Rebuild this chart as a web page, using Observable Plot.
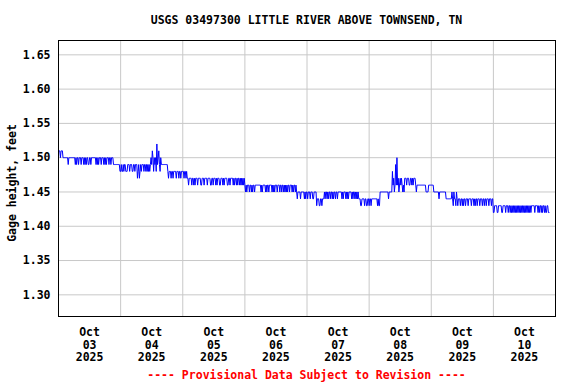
<!DOCTYPE html>
<html><head><meta charset="utf-8">
<script src="https://cdn.jsdelivr.net/npm/d3@7"></script>
<script src="https://cdn.jsdelivr.net/npm/@observablehq/plot@0.6"></script>
<style>
body{margin:0;background:#fff;}
#wrap{position:relative;width:576px;height:384px;font-family:"DejaVu Sans Mono",monospace;font-weight:bold;font-size:11.5px;color:#000;}
#wrap svg{position:absolute;left:0;top:0;}
.t{position:absolute;white-space:pre;line-height:14px;z-index:2;}
</style></head><body>
<div id="wrap">
<div class="t" id="title" style="left:58px;width:497px;top:13px;text-align:center;"></div>
<div class="t" id="ylab" style="left:12px;top:183px;transform:translate(-50%,-50%) rotate(-90deg);"></div>
<div class="t" id="cap" style="left:58px;width:497px;top:368px;text-align:center;color:#ff0000;"></div>
</div>
<script>
// ---- text ----
const titleText = "USGS 03497300 LITTLE RIVER ABOVE TOWNSEND, TN";
const yLabel = "Gage height, feet";
const captionText = "---- Provisional Data Subject to Revision ----";

// ---- tick labels ----
const yTicks = [1.30, 1.35, 1.40, 1.45, 1.50, 1.55, 1.60, 1.65];
const xTickMonth = "Oct";
const xTickDays = ["03", "04", "05", "06", "07", "08", "09", "10"];
const xTickYear = "2025";

// ---- gage height, hundredths of a foot, every 15 minutes from midnight ----
const oct03 = [151,151,151,150,151,151,151,150,150,150, 150,150,150,150,150,149,150,150,150,150,
  150,150,150,150,150,150,149,150,149,150, 150,149,150,150,150,149,150,150,150,149,
  150,149,150,149,150,150,149,149,150,150, 149,150,150,150,150,150,150,150,149,150,
  149,150,149,150,150,150,149,150,150,150, 149,150,149,150,149,150,150,150,149,150,
  150,149,150,150,150,149,149,149,149,149, 149,149,149,149,149,148];
const oct04 = [148,149,148,148,149,148,149,149,148,148, 148,149,149,149,148,149,149,149,148,148,
  149,149,148,149,149,149,147,148,149,147, 148,149,148,149,149,149,148,149,149,148,
  149,148,149,148,149,148,149,150,149,151, 150,148,150,149,150,148,152,149,150,151,
  149,148,150,149,149,149,149,149,149,149, 149,149,149,148,147,148,148,148,147,148,
  148,147,148,148,148,148,147,148,148,148, 147,148,148,147,148,148];
const oct05 = [148,148,147,148,148,147,148,147,147,146, 147,147,147,147,146,147,147,146,147,146,
  147,147,147,146,147,147,147,147,146,146, 147,147,147,146,147,147,147,147,146,147,
  147,147,147,146,146,147,147,146,147,147, 147,146,147,146,147,147,147,146,146,147,
  147,147,146,147,146,147,147,147,147,146, 146,147,147,146,147,147,147,147,146,147,
  146,147,147,146,147,146,147,147,146,147, 146,147,146,147,146,147];
const oct06 = [146,145,146,145,146,146,146,145,146,146, 145,146,145,146,146,145,146,146,146,146,
  146,146,146,146,146,145,146,145,146,146, 146,146,145,146,145,146,146,145,146,146,
  146,146,145,146,145,146,145,146,146,146, 145,146,146,146,145,146,146,145,146,146,
  145,146,145,146,145,146,145,146,146,145, 146,146,146,145,146,145,146,146,145,146,
  145,144,145,145,145,145,144,145,145,145, 145,145,144,145,144,145];
const oct07 = [145,144,145,145,145,144,145,145,145,144, 144,145,145,145,145,143,144,144,144,143,
  143,144,144,143,144,144,144,145,144,145, 145,144,145,144,145,145,144,145,145,144,
  145,144,145,145,144,145,145,144,145,145, 145,145,145,145,144,145,144,145,145,145,
  144,145,144,145,144,145,145,145,145,144, 145,144,145,145,144,145,144,145,144,145,
  144,144,144,143,143,144,144,144,144,143, 144,144,143,143,144,144];
const oct08 = [143,144,144,143,144,144,144,144,144,144, 144,144,144,143,144,143,143,145,145,145,
  145,145,145,145,145,145,145,145,145,145, 144,145,145,145,145,145,148,146,147,145,
  146,149,146,150,146,147,145,146,147,146, 147,146,145,146,145,147,147,147,146,147,
  147,147,146,146,147,147,146,147,146,147, 147,147,146,145,146,146,146,146,146,146,
  146,146,146,146,146,146,146,146,145,145, 145,145,146,146,146,146];
const oct09 = [146,146,146,146,145,145,145,145,145,145, 145,145,144,145,145,145,145,145,145,145,
  145,145,145,144,144,144,144,144,144,144, 144,144,145,144,143,145,144,144,143,145,
  144,143,144,144,144,143,144,144,143,144, 143,144,144,143,144,144,144,143,144,144,
  144,144,143,144,144,144,143,144,143,144, 144,143,144,144,144,143,144,144,144,143,
  144,144,143,144,144,143,144,144,144,143, 144,144,144,143,144,144];
const oct10 = [142,142,143,143,143,143,142,142,143,143, 143,143,143,142,142,143,143,143,143,142,
  143,143,143,142,143,143,142,143,142,143, 142,143,142,143,142,143,142,143,142,143,
  142,143,142,143,142,143,142,143,142,143, 142,143,142,143,142,143,142,143,142,143,
  143,143,143,143,142,143,143,143,143,142, 143,142,143,143,142,143,142,143,143,142,
  143,142,142,143,143,142,142];

const dayValues = [oct03, oct04, oct05, oct06, oct07, oct08, oct09, oct10];

document.getElementById("title").textContent = titleText;
document.getElementById("ylab").textContent = yLabel;
document.getElementById("cap").textContent = captionText;

const start = Date.UTC(2025, 9, 3);
const end = Date.UTC(2025, 9, 11);
const step = 15 * 60 * 1000;
const dayMs = 24 * 3600 * 1000;

const data = [];
dayValues.forEach((arr, d) => arr.forEach((h, i) => {
  data.push({t: new Date(start + d * dayMs + i * step), v: h / 100});
}));

const midnights = d3.utcDay.range(new Date(start), new Date(end + 1));
const noons = xTickDays.map((s, i) => new Date(start + i * dayMs + dayMs / 2));

const chart = Plot.plot({
  width: 576,
  height: 384,
  marginLeft: 58,
  marginRight: 21,
  marginTop: 40,
  marginBottom: 68,
  style: {fontFamily: "'DejaVu Sans Mono', monospace", fontSize: "11.5px", fontWeight: "bold", background: "transparent", color: "#000"},
  x: {type: "utc", domain: [new Date(start), new Date(end)]},
  y: {domain: [1.2684, 1.6709]},
  marks: [
    Plot.gridY(yTicks, {stroke: "#c8c8c8", strokeOpacity: 1}),
    Plot.gridX(midnights, {stroke: "#c8c8c8", strokeOpacity: 1}),
    Plot.lineY(data, {x: "t", y: "v", stroke: "#0000ff", strokeWidth: 1, curve: "linear"}),
    Plot.axisY(yTicks, {tickSize: 0, tickPadding: 8, tickFormat: d3.format(".2f"), label: null}),
    Plot.axisX(noons, {tickSize: 0, tickPadding: 10, lineHeight: 1.12,
      tickFormat: (d, i) => `${xTickMonth}\n${xTickDays[i]}\n${xTickYear}`, label: null}),
    Plot.frame({stroke: "#000", strokeWidth: 1})
  ]
});
document.getElementById("wrap").appendChild(chart);
</script>
</body></html>
